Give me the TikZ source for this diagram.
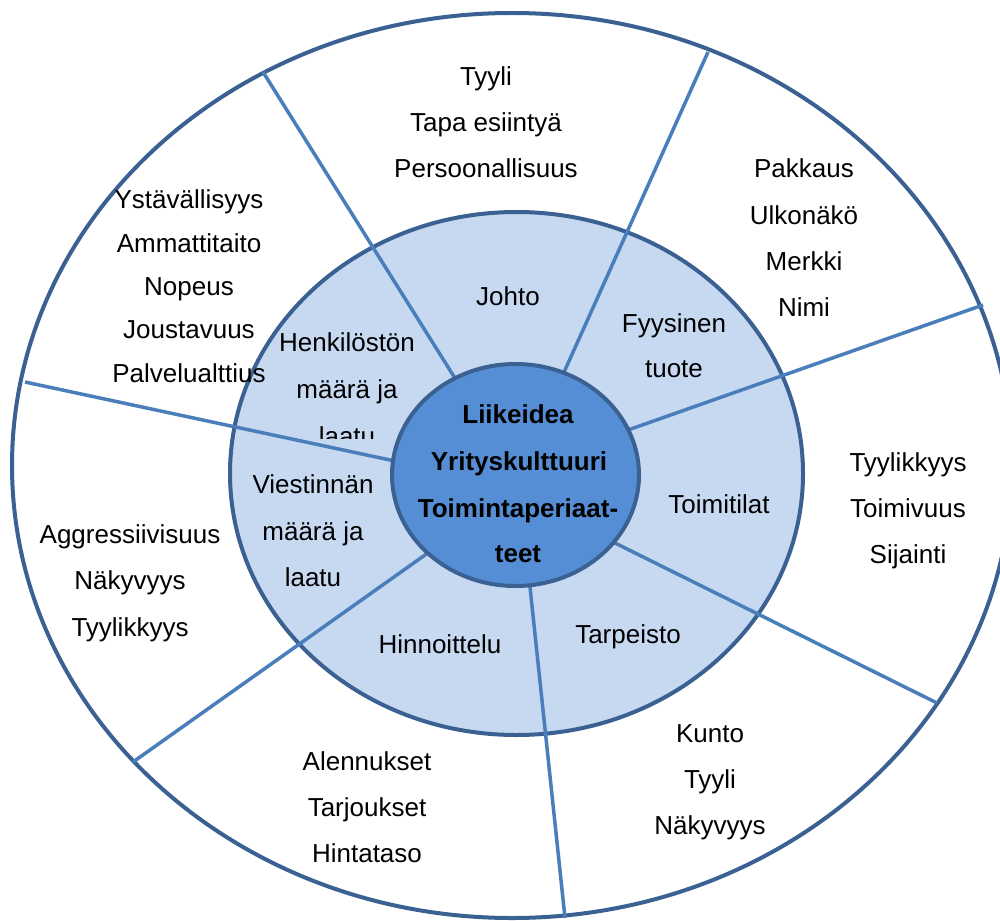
\documentclass[tikz,border=0pt]{standalone}
\usepackage{fontspec}
\setmainfont{Liberation Sans}
\definecolor{ringline}{HTML}{3A6192}
\definecolor{spokecol}{HTML}{4A7EBB}
\definecolor{midfill}{HTML}{C6D9F1}
\definecolor{corefill}{HTML}{558ED5}
\tikzset{
  lbl/.style={font=\fontsize{26}{26}\selectfont, anchor=base, inner sep=0pt, text=black},
  corelbl/.style={lbl, font=\fontsize{26}{26}\selectfont\bfseries},
  ringline/.style={draw=ringline, line width=4pt},
  spokeline/.style={draw=spokecol, line width=3.5pt, shorten <=-12pt},
}
\begin{document}
\begin{tikzpicture}[x=1pt,y=-1pt]
\useasboundingbox (0,0) rectangle (1000,920);
\clip (0,0) rectangle (1000,920);
\fill[white] (0,0) rectangle (1000,920);
% centres
\coordinate (oc) at (512,465.5);
\coordinate (mc) at (516.5,473.5);
\coordinate (ic) at (515.5,475);
% rings
\path[ringline, fill=white] (oc) ellipse [x radius=500pt, y radius=452.5pt];
\path[ringline, fill=midfill] (mc) ellipse [x radius=286.5pt, y radius=261.5pt];
% spoke ends
\coordinate (s1i) at (453,375); \coordinate (s1o) at (263,72);
\coordinate (s2i) at (565,370); \coordinate (s2o) at (708,52);
\coordinate (s3i) at (628,430); \coordinate (s3o) at (983,305);
\coordinate (s4i) at (615,543); \coordinate (s4o) at (937,703);
\coordinate (s5i) at (530,587); \coordinate (s5o) at (565,918);
\coordinate (s6i) at (425,555); \coordinate (s6o) at (133,762);
\coordinate (s7i) at (390,460); \coordinate (s7o) at (25,382);
\foreach \k in {1,...,7} {\draw[spokeline] (s\k i) -- (s\k o);}
% core
\path[ringline, fill=corefill] (ic) ellipse [x radius=123.5pt, y radius=111pt];
% core text
\node[corelbl] (c1) at (518,423) {Liikeidea};
\node[corelbl] (c2) at (519,470) {Yrityskulttuuri};
\node[corelbl] (c3) at (518,517) {Toimintaperiaat-};
\node[corelbl] (c4) at (518,562) {teet};
% middle ring text
\node[lbl] (m1) at (508,305) {Johto};
\node[lbl] (m2a) at (674,332) {Fyysinen};
\node[lbl] (m2b) at (674,377) {tuote};
\node[lbl] (m3) at (719,513) {Toimitilat};
\node[lbl] (m4) at (628,643) {Tarpeisto};
\node[lbl] (m5) at (440,653) {Hinnoittelu};
\node[lbl] (m6a) at (313,493) {Viestinnän};
\node[lbl] (m6b) at (313,540) {määrä ja};
\node[lbl] (m6c) at (313,586) {laatu};
\node[lbl] (m7a) at (347,351) {Henkilöstön};
\node[lbl] (m7b) at (347,398) {määrä ja};
\begin{scope}
\clip (290,400) rectangle (410,438);
\node[lbl] (m7c) at (347,445) {laatu};
\end{scope}
% outer ring text
\node[lbl] (o1a) at (486,86) {Tyyli};
\node[lbl] (o1b) at (486,132) {Tapa esiintyä};
\node[lbl] (o1c) at (486,178) {Persoonallisuus};
\node[lbl] (o2a) at (804,178) {Pakkaus};
\node[lbl] (o2b) at (804,224) {Ulkonäkö};
\node[lbl] (o2c) at (804,270) {Merkki};
\node[lbl] (o2d) at (804,316) {Nimi};
\node[lbl] (o3a) at (908,471) {Tyylikkyys};
\node[lbl] (o3b) at (908,517) {Toimivuus};
\node[lbl] (o3c) at (908,563) {Sijainti};
\node[lbl] (o4a) at (710,742) {Kunto};
\node[lbl] (o4b) at (710,788) {Tyyli};
\node[lbl] (o4c) at (710,834) {Näkyvyys};
\node[lbl] (o5a) at (367,770) {Alennukset};
\node[lbl] (o5b) at (367,816) {Tarjoukset};
\node[lbl] (o5c) at (367,862) {Hintataso};
\node[lbl] (o6a) at (130,543) {Aggressiivisuus};
\node[lbl] (o6b) at (130,589) {Näkyvyys};
\node[lbl] (o6c) at (130,636) {Tyylikkyys};
\node[lbl] (o7a) at (189,208) {Ystävällisyys};
\node[lbl] (o7b) at (189,252) {Ammattitaito};
\node[lbl] (o7c) at (189,295) {Nopeus};
\node[lbl] (o7d) at (189,338) {Joustavuus};
\node[lbl] (o7e) at (189,382) {Palvelualttius};
\end{tikzpicture}
\end{document}
